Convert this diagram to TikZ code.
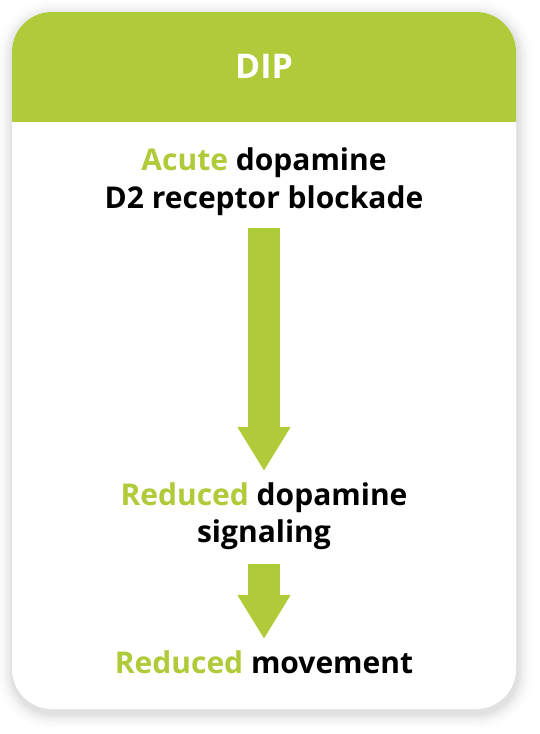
\documentclass[tikz,border=0pt]{standalone}
\usepackage{fontspec}
\setmainfont{Open Sans}
\usetikzlibrary{arrows.meta}
\definecolor{dipgreen}{RGB}{176,203,58}
\tikzset{
  card/.style={fill=white, rounded corners=40pt},
  txt/.style={font=\bfseries\fontsize{30}{36}\selectfont, text=black, anchor=base, inner sep=0pt},
  bigarrow/.style={draw=dipgreen, line width=32pt, -{Triangle[length=44pt,width=50pt]}},
}
\begin{document}
\begin{tikzpicture}[x=1pt,y=-1pt]
\useasboundingbox (0,0) rectangle (540,734);
% shadow
\foreach \i/\o in {16/0.008,13/0.011,10/0.014,8/0.017,6/0.02,4/0.024,2/0.028}{
  \fill[black, opacity=\o, rounded corners=40pt+\i pt] (12-\i+1,12-\i+4) rectangle (516+\i+1,709+\i+4);
}
\fill[card] (12,12) rectangle (516,709);
\begin{scope}
  \clip (12,12) rectangle (516,121);
  \fill[dipgreen, rounded corners=40pt] (12,12) rectangle (516,709);
\end{scope}
\node[txt, font=\bfseries\fontsize{34}{38}\selectfont, text=white] (title) at (264,78) {DIP};
\node[txt] (t1a) at (264,170) {\textcolor{dipgreen}{Acute} dopamine};
\node[txt] (t1b) at (264,208) {D2 receptor blockade};
\node[txt] (t2a) at (264,505) {\textcolor{dipgreen}{Reduced} dopamine};
\node[txt] (t2b) at (264,542) {signaling};
\node[txt] (t3) at (264,673) {\textcolor{dipgreen}{Reduced} movement};
\coordinate (a1s) at (264,228);
\coordinate (a1e) at (264,471);
\coordinate (a2s) at (264,564);
\coordinate (a2e) at (264,639);
\draw[bigarrow] (a1s) -- (a1e);
\draw[bigarrow] (a2s) -- (a2e);
\end{tikzpicture}
\end{document}
